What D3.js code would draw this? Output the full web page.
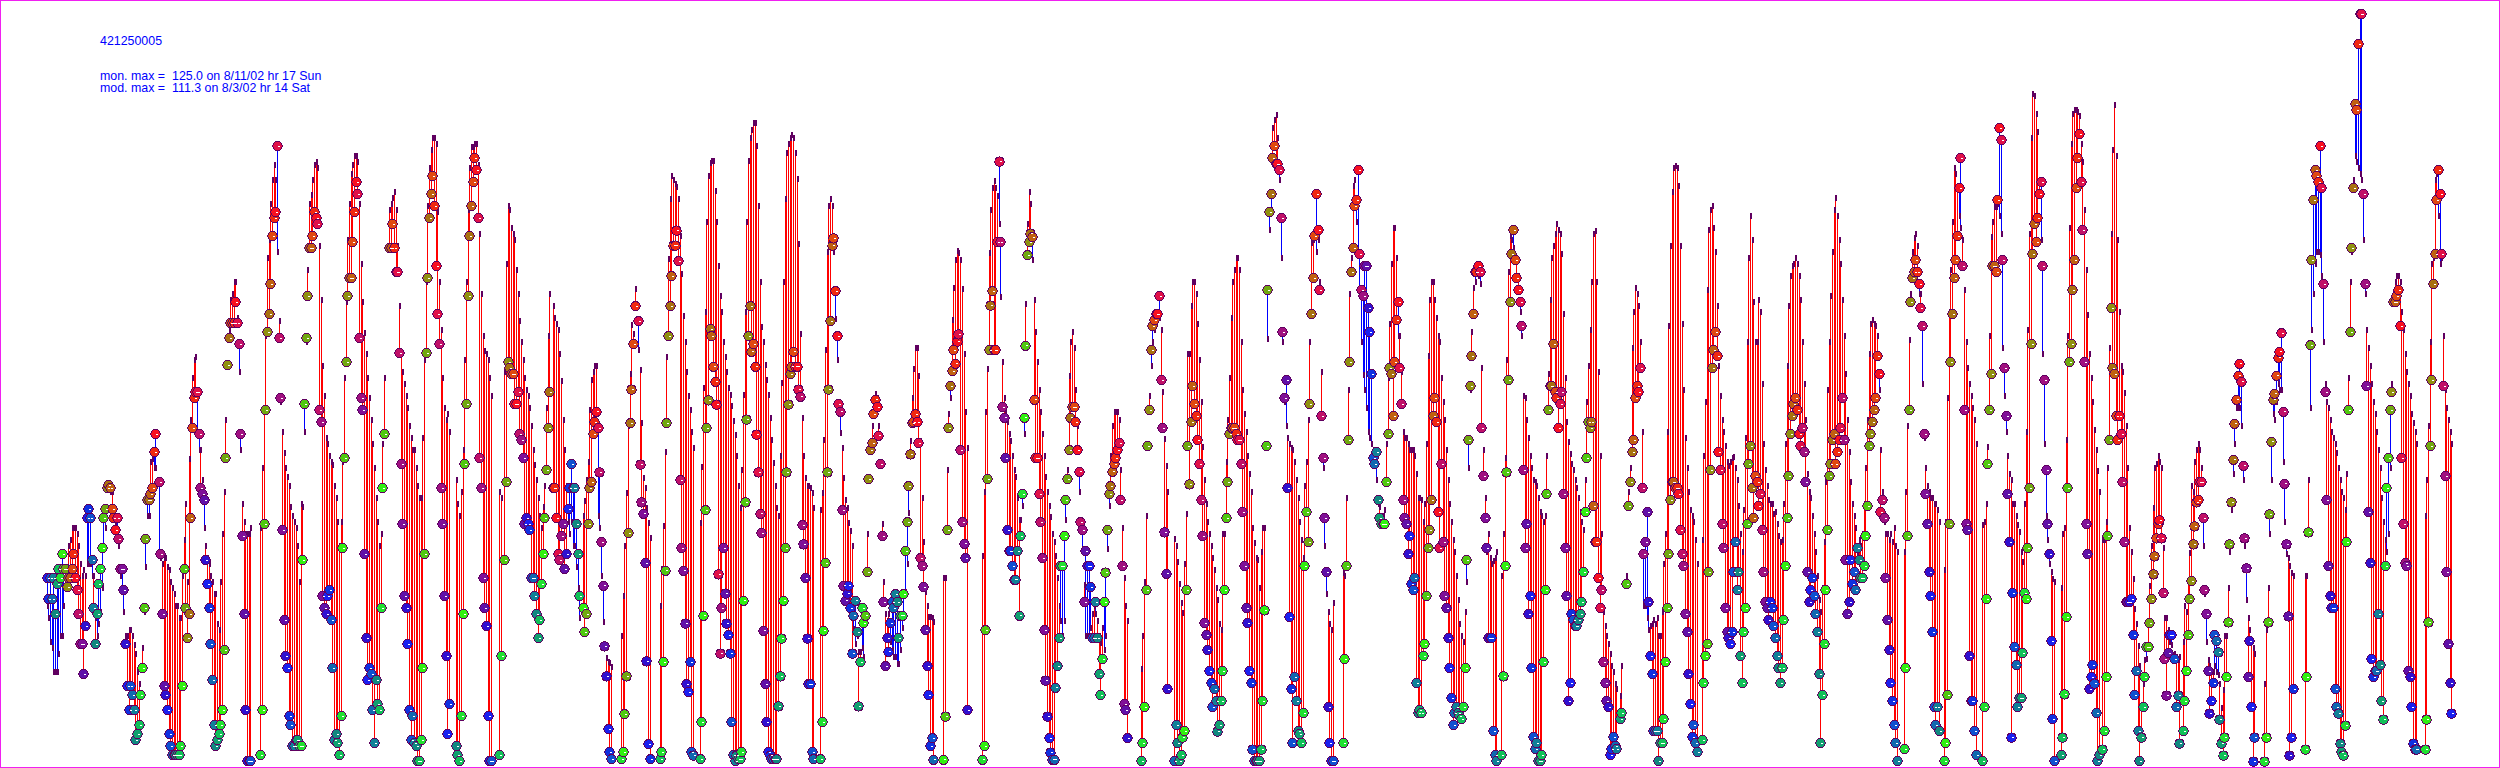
<!DOCTYPE html>
<html><head><meta charset="utf-8">
<script src="https://cdn.jsdelivr.net/npm/d3@7"></script>
<style>html,body{margin:0;padding:0;background:#fff}svg{display:block}</style>
</head><body><svg id="c" width="2500" height="768"></svg>
<script>
const stationId = "421250005";
const monLabel = "mon. max =", monText = "125.0 on 8/11/02 hr 17 Sun";
const modLabel = "mod. max =", modText = "111.3 on 8/3/02 hr 14 Sat";
// [hour index, monitored value, modelled value]
const weekA=[[1,31,26],[2,27.5,24],[3,31,20],[4,27.5,19],[5,31,15],[6,25,15],[7,30,15],[8,32.5,18],[9,31,21],[10,35,21],[11,32.5,26],[12,32.5,30],[13,29.5,32.5],[14,31,36],[15,31,37],[16,32.5,39],[17,35,39],[18,31,39],[19,29,38],[20,25,36],[21,20,33],[22,20,31],[23,15,32],[24,23,31],[25,41,33],[26,42.5,33],[27,41,33],[28,34,31],[29,26,31],[30,20,24],[31,25,21],[32,30,23],[33,32.5,25],[34,36,29],[35,41,36],[36,42.5,39],[37,46,46],[38,46.5,46],[39,46,45],[40,42.5,45],[41,41,42.5],[42,39,40],[43,41,37.5],[44,37.5,36],[45,32.5,31],[46,32.5,29],[47,29,25],[48,20,21],[49,13,21],[50,9,22],[51,13,22],[52,11.5,21],[53,9,19.5],[54,4,18],[55,5,15],[56,6.5,13],[57,11.5,11],[58,16,19],[59,26,25],[60,37.5,32.5],[61,44,41],[62,44,41],[63,45,50],[64,46,50.5],[65,52,49],[66,55,49],[68,47,35],[69,35,34],[70,25,33],[71,13,34],[72,11.5,34],[73,9,32.5],[74,5,32],[75,3,30],[76,1.5,29],[77,1.5,28],[78,1.5,26],[79,1.5,26],[80,1.5,24],[81,3,24],[82,13,31],[83,32.5,37],[84,26,43],[85,21,30],[86,25,50.5],[87,41,57],[88,56,64],[89,61,67],[90,62,67.5],[91,62,55],[92,55,52],[93,46,52],[94,45,47],[95,44,39],[96,34,36],[97,30,34],[98,26,33],[99,20,31],[100,14,30],[101,6.5,28],[102,3,28],[103,4,23],[104,5,22],[105,6.5,30],[106,9,38],[107,19,45],[108,51,57],[109,66.5,66],[110,71,72],[111,73.5,77],[112,73.5,78],[113,73.5,80],[114,77,80],[115,73.5,74],[116,70,65],[117,55,52],[118,38,43],[119,25,40],[120,9,38],[121,.5,38],[122,.5,38],[123,.5,39],[129,1.5,39],[130,9,49],[131,40,59],[132,59,71],[133,72,84],[134,75,87],[135,80,93],[136,88,97],[137,91,99.5],[138,92,97],[139,103,85],[140,71,73.5],[141,61,60],[142,39,55],[143,24,51.5],[144,18,49],[145,16,47.5],[146,8,46],[147,6.5,42.5],[148,3,41],[149,3,40],[150,4,39],[151,4,36],[152,3,30],[153,3,43],[154,34,42.5]];
const weekB=[[155,60,55],[156,71,70],[157,78,82],[158,86,93],[159,86,94.5],[160,88,97],[161,92,99.5],[162,91,100],[163,90,99],[164,59,86],[165,57,77],[166,28,66],[167,26,61],[168,25,54],[169,28,53],[170,29,51],[171,24,50],[172,16,49.5],[173,4,46],[174,5,44],[175,3.5,40],[176,1.5,36],[177,8,40],[178,36,50],[179,51,64],[180,67,76.7],[181,78,87],[182,81,93],[183,81,98],[184,87,99.5],[185,92,101],[186,97,101],[187,95,100],[188,71,93],[189,61,83],[190,59,76.7],[191,35,71.5],[192,21,68],[193,14,64],[194,16,60.6],[195,15,57],[196,9,53],[197,3.5,49],[198,14,44],[199,10,40],[200,9,36],[201,26,38],[202,46,53],[203,55,64],[206,86,92],[207,86,93],[208,90,94],[209,86,95],[210,82,92],[211,82,86],[212,68.5,76],[213,50,68],[214,40,65],[215,28,63],[216,26,61],[217,20,59],[218,9,56],[219,4,54],[220,8,52],[221,3.5,52],[222,3,49],[223,.5,46],[224,.5,44],[225,4,44],[226,16,54],[227,35,67],[228,68.5,80],[229,81,92.6],[230,91,99],[231,95,102],[232,98,104],[233,93,104],[234,83,103],[235,75,91.6],[236,70,80],[237,46,72],[238,40,64],[239,28,59],[240,18,57],[241,5,58],[242,10,55],[246,3,47],[247,1.5,43],[248,.5,41],[249,8,45],[250,25,52],[251,50,67],[252,60,80],[253,78,92],[254,88,99],[255,93,102.5],[256,97,102.5],[257,101,103],[258,99,103],[259,91,99.5],[260,51,88],[261,46,78],[262,31,71],[263,26,68.5],[264,23,68],[265,8,67],[266,.5,64],[267,.5,61],[272,1.5,45],[273,18,44],[275,34,65],[276,47,83],[277,67,92.6],[278,66,92],[279,65,89],[280,65,88],[281,60,87],[282,60,82],[283,62,78],[284,55,73.5],[285,54,70],[286,51,67],[287,40,64],[288,41,62],[289,40,61],[290,39,59],[291,31,56],[292,31,52],[293,28,49.5],[294,25,47],[295,21,44],[296,24,41],[297,30,39],[298,35,42.5],[299,41,46],[300,49,59],[301,56,71],[302,62,78],[304,46,76],[305,46,74],[306,41,73],[307,35,72],[308,34,68],[309,38,63.5],[310,40,57],[311,32.5,52],[312,35,46],[313,42.5,40],[314,46,38],[315,50,40],[316,46,36],[317,46,36],[318,40,32.5],[319,35,29],[320,28,24]];
const weekC=[[322,26,41],[323,22,43.5],[324,25,47],[325,40,50],[326,46,58.7],[327,47,63.7],[328,55,65],[329,57,66],[330,58.7,66],[331,56,41],[332,48.6,39],[333,37,31],[334,29.7,23.4],[335,19.6,19],[336,14.6,17.4],[337,5.8,16.7],[338,2,16.5],[339,.8,15.9],[345,.8,21],[346,2,27.6],[347,8.3,36],[348,14.6,44.8],[349,38.5,56],[350,56.8,64.6],[351,62.4,72.9],[352,70,71.3],[353,76.3,78.8],[355,73.8,68.7],[356,49.9,65.3],[357,43.6,56.5],[358,41.7,47.3],[359,33.5,45.7],[360,17.1,42.3],[361,3.3,39.8],[362,.8,37.3],[368,.8,26],[369,2,32.2],[370,17,39.3],[371,32.2,51.6],[372,56.8,67.5],[373,71.3,83.8],[374,76.3,93.9],[375,81.3,97.7],[376,86.4,97],[377,86.4,96.4],[378,88.9,95.8],[379,83.8,93.9],[380,47.3,87.6],[381,36,81.3],[382,32.2,74.4],[383,23.4,70],[384,13.3,65],[385,12,61],[386,17,58.7],[387,2,55],[388,1.4,52.4],[392,.8,39.8],[393,7,49.2],[394,24.7,62.4],[395,42.3,75],[396,56,90],[397,60.6,97.7],[398,72.5,99.8],[399,71.3,100.2],[400,66.2,100.2],[401,63.7,95.2],[402,59.9,90],[403,31.6,82.6],[404,18.4,77.6],[405,26,75],[406,36,70],[407,28.4,67.5],[408,23.4,65],[409,21.5,62.4],[410,18.4,61.2],[411,7,59.3],[412,1.5,56.9],[413,.5,54.5],[414,1.4,51],[415,.8,46],[416,.8,42.3],[417,2,48.6],[418,27.2,61.2],[419,43.6,75],[420,57.4,90],[421,71.3,100.2],[422,76.3,104],[423,68.7,105.3],[424,70,106.5],[425,66.2,106.5],[426,54.9,102.7],[427,48.6,92.7],[428,41.7,80],[429,38.5,72.5],[430,22.2,70],[431,13.3,66.2],[432,7,63.7],[433,2,61.2],[434,1.4,57.4],[435,.8,53.6],[436,.8,49.9],[437,.8,46],[438,.8,42.3],[439,9.6,41],[440,14.6,51],[441,20.9,63.2],[442,27.2,80],[443,36,93.9],[444,48.6,101.5],[445,59.9,103],[446,65,104],[447,66.2,104.5],[448,68.7,104],[449,66.2,101.5],[450,66.2,97.2],[451,62.4,86.4],[452,61.2,71.3],[453,39.8,57.4],[454,36.6,51],[455,31,47.3],[456,20.9,46],[457,13.3,46],[458,13.3,45.7],[459,2,44.8],[460,.8,42.3],[464,.8,42],[465,7,44.8],[466,22.2,53.6],[467,33.5,68.7],[468,48.6,85],[469,62.4,92.7],[470,73.8,93.9],[471,86.4,92.7],[472,87.6,85],[473,78.8,73.8],[474,71.3,67],[475,60,58.7],[476,58.7,54.9],[477,42.3,52.4],[478,29.7,47.3],[479,27.2,43.6],[480,28.4,42.3],[481,29.7,39.8],[482,26,38.5],[483,18.4,36],[484,24.7,22.2],[485,27.2,19.6],[486,22,21],[487,9.6,18.4],[488,17,18.4]];
const weekD=[[489,26,19],[490,23.5,17.5],[491,24.7,23.5],[492,32,38],[493,47.5,47.5],[494,52.3,53.5],[495,53.5,56],[496,58.3,60.7],[497,60.7,61.3],[498,59.5,60.7],[499,54.7,56],[500,50,50],[501,38,39.6],[502,27,30],[503,16.3,24.7],[504,21,23.5],[505,18.7,24.7],[506,23.5,20],[507,27,18.7],[508,26,17.5],[509,28.3,17.5],[510,27,16.3],[511,21,16.3],[512,24.7,18.7],[513,24.7,22.3],[514,28.3,24.7],[515,35.5,28.3],[516,40.3,33],[517,46.3,41.5],[518,51.6,53.5],[519,56.8,60.6],[520,57,65.5],[521,58.3,69],[522,57,69],[523,53.5,64.3],[524,34.3,53.5],[525,33,44],[526,29.5,36.7],[527,22.3,28.3],[528,16.3,26],[529,11.5,24.2],[530,3,24.2],[531,4.3,24],[532,.7,23.3],[538,.7,30.7],[539,7.9,30.7],[540,39,48.7],[541,56,58],[542,63,60.7],[543,65.5,73.6],[544,69,79],[545,66.7,83.6],[546,70.4,85.2],[547,71.6,84.8],[548,52.3,83.6],[549,40.3,78.8],[550,36.7,68],[551,34.3,58.3],[552,9,52.3],[561,.7,34.3],[562,3,45],[563,22.3,58.3],[564,47.5,65.5],[565,69,84.8],[566,76.4,92],[567,78.8,95.6],[568,69,96.8],[569,69,95.6],[570,87,94.4],[571,100.4,89.6],[572,87,77.5],[573,59.5,66.7],[574,57.7,60.7],[575,51,58.3],[576,39,56.7],[577,35.5,54.7],[578,35.5,53.5],[579,33,51],[580,30.7,48.7],[581,30.7,47.5],[582,35.5,44],[583,24.7,40.3],[584,38,40.3],[585,45,42.7],[586,57.7,54.7],[587,69.7,76.4],[588,84.8,89.6],[589,87,95],[590,88.4,93],[591,87.8,83.6],[592,60.7,77],[593,51,71.6],[594,51,66.7],[595,45,62],[596,40.3,58.3],[597,34.3,54.7],[598,22.3,51],[599,13.9,47.5],[600,7.9,45],[601,4.3,42.7],[602,1.9,40.9],[603,.7,38],[604,.7,36.7],[605,12.7,34.3],[606,16.3,30.7],[607,21,26],[608,33,23.5],[609,33,21],[610,38,23.5],[611,44,40.3],[612,47.5,48.7],[613,52.3,64.3],[614,57.7,70],[615,59.5,71.6],[616,59.5,69],[617,57,62],[618,52.3,56],[619,48.7,45],[620,40.3,39],[621,39,35.5],[622,27,29.5],[623,35.5,21],[624,33,21],[625,33,21],[626,29.5,22.3],[627,21,24.7],[628,21,26],[629,27,24.7],[630,21,23.5],[631,15,21],[632,11.5,19.9],[633,17.5,22.3],[634,27,18.7],[635,31.9,21],[636,39,35.5],[637,45,42.7],[638,46.3,51],[639,48.7,56],[640,50,58.3],[641,51,58.3],[642,52.3,58.3],[643,53.5,57],[644,44,48.7],[645,33,39],[646,10,30.7],[647,9,26],[648,4.3,23.5]];
const weekE=[[656,.5,15.5],[657,3.5,21],[658,9.5,30],[659,29,41],[660,53,53],[661,59,61],[662,69,66],[663,73,70],[664,74,72],[665,75,73],[666,75,74],[667,78,74],[668,64,72],[669,56,61.7],[670,38.6,53.9],[671,31.7,49.3],[672,12.5,45],[676,.5,37.2],[677,6.5,36],[678,3.5,33.3],[679,.5,29.7],[680,1.5,26.5],[681,4.4,24.8],[682,5.5,33],[683,29,41.4],[684,53,68],[685,46.6,68],[686,57,76],[687,63,80],[688,60,80],[689,58,78],[690,54,73],[691,50,67],[692,44,60],[693,38,52.5],[694,23.5,47],[695,21.5,43],[696,19,40],[697,15.5,38],[698,13.5,36],[699,9.5,34],[700,12.5,32],[701,10.5,29],[702,5.4,27],[703,6.5,23],[704,10.5,22],[705,15.5,38],[706,29,38],[707,41,50],[708,47,57],[709,55,64],[710,56,74],[711,56,80],[712,56,82],[713,55,84],[714,54,84],[715,54,82],[716,50,70],[717,42,62],[718,33,58],[719,26,55],[720,23.5,51],[721,15.5,48],[722,13.5,45],[723,2.4,39],[724,.5,36.5],[725,.5,34],[726,.5,33.6],[727,.5,29],[728,2.4,35],[729,10.5,39],[730,25.6,39],[731,53,53],[732,79,70.5],[733,92,88.6],[734,95,92],[735,101,105.7],[736,103,107],[737,100,107.8],[738,100,104],[739,99,97],[740,91,84],[741,72,70],[742,61,60],[743,64,56],[744,46,54],[745,24.5,53],[746,12.5,52.4],[747,3.5,52],[748,14.5,50],[749,10.5,47],[750,5.5,44],[751,5,40],[752,3.5,37],[753,8.5,34],[754,33,46],[755,42,50],[756,37,57],[757,60,70],[758,75,86.5],[759,81,87],[760,88,88],[761,95,85],[762,89,87],[763,79,80],[764,58,65],[765,51,49],[766,41,36],[767,32,28],[768,9.5,25],[769,3.5,23],[770,.5,22],[771,.5,26.5],[777,3.5,31.5],[778,17.5,31],[779,33,44],[780,54,62],[781,67,78],[782,82,84],[783,86,96],[784,93,97],[785,94,90],[786,99,85],[787,85,78],[788,79,70],[789,78,64.5],[790,83,62],[791,83,59],[792,76,55],[793,72,54],[794,65,53],[795,51,52],[796,50,50],[797,52,47],[798,44,43],[799,41,42.5],[800,40,41],[801,40,41],[802,40,42],[803,47,53],[804,55,64],[805,66,73],[806,65,83],[807,58,89],[808,67,89],[809,74,84],[810,77,71],[811,66,71],[812,60,65],[813,44,55],[814,41,54],[815,40,54],[816,35,53],[817,38,52],[818,30,52],[819,29,52],[820,31,51],[821,13.5,48]];
const weekF=[[822,8.5,44],[823,9,44],[824,8.5,43.6],[825,18,40],[826,20,43],[827,28,53],[828,36,67.6],[829,39,77],[830,44,80],[831,58,80],[832,61,77],[833,57,74],[834,42,71],[835,36,70],[836,50,64],[837,37,60],[838,28,57],[839,26,52],[840,21,47],[841,16,43],[842,11,40],[843,6.5,37],[844,8.5,35],[845,9.5,31],[846,8.5,27],[847,8,23],[848,7.5,21],[849,9.5,20],[850,16,25],[851,34,30],[852,54,49],[853,63,62],[854,68,71.6],[855,75,79],[856,82,80],[857,82,82],[858,83,81],[859,82,79.6],[860,56,65.6],[861,48,52],[862,41,44],[863,36,35],[864,21,38],[865,21,34],[866,21,33],[867,5.5,33.5],[868,1.5,34],[869,.5,35],[872,1.5,31],[873,14.6,38],[874,33,50.6],[875,48.6,67],[876,64,81.6],[877,77,87.6],[878,85,87],[879,89,85.6],[880,84,84],[881,81,83.6],[882,79,81],[883,77,75],[884,73,71],[885,49,61],[886,36,60.6],[887,40,57],[888,25,54],[889,28,51],[890,16,49],[891,4.5,47],[892,2.5,46.6],[893,3.5,46],[894,.5,44],[895,.5,41.6],[896,1.5,41],[897,17,40],[898,29,41],[899,45,51],[900,59,64.6],[901,63,77],[902,63,84],[903,70,86],[904,62,88],[905,61,89.6],[906,56,88.6],[907,60,88],[908,62,84.6],[909,45,74.6],[910,36,64],[911,28,56.6],[912,10.5,53.3],[913,13.5,51.3],[914,25,49.6],[915,24,48.6],[916,23,47],[917,23,45.6],[918,24,44],[919,25,41.6],[920,27,40],[921,32,38.6],[922,42,47],[923,51,60],[924,57,66],[925,56,72],[926,57,80],[927,43,88],[928,37,88.5],[929,37,80],[930,31,65],[931,26,51],[932,29,38],[933,17,25],[934,13.5,22.6],[935,10.5,21],[936,9.5,19.6],[937,1.5,18],[938,2.5,16],[939,4.5,15],[940,3,13],[941,2.5,12.2],[943,7.5,11],[944,8.5,16],[947,30,31],[948,43,45],[949,47,49],[950,52,69],[951,54,75],[952,61,79],[953,63,78],[954,62,76],[955,66,70],[956,46,55],[957,35,26],[958,37,26],[959,42,24],[960,27,22],[961,18,22.6],[962,15,23],[963,5.5,23.6],[964,5.5,23],[965,5.5,24],[966,.5,21],[967,3.5,21],[968,3.5,25],[969,7.5,33],[970,17,38],[971,26,55],[972,35,72.6],[973,44,86],[974,47,95],[975,47,99],[976,46,99.3],[977,46,99],[978,45,96],[979,39,86],[980,35,73],[981,33,62],[982,25,54],[983,22,49],[984,15,45],[985,10,42],[986,4.5,41],[987,6.5,40],[988,3.5,37],[989,2,33]];
const weekG=[[992,4,37],[993,13.5,51],[994,18,60],[995,20,78.6],[996,32,88.6],[997,49,92],[998,66,92.6],[999,69,89],[1000,72,85],[1001,68,76],[1002,52,66],[1003,49,61],[1004,40,57],[1005,36,55],[1006,26,52.6],[1007,22,50],[1008,21,49.3],[1009,20,50],[1010,22,50.6],[1011,32,50.9],[1012,37,49],[1013,29,47],[1014,32,42.6],[1015,18,38],[1016,13.5,35],[1017,22,42],[1018,26,54],[1019,40,70],[1020,50,84],[1021,53,91],[1022,46,87],[1023,41,76.6],[1024,48,70],[1025,47,70],[1026,43,77],[1027,45,75],[1028,39,63],[1029,32,53],[1030,27,48.6],[1031,26,46],[1032,24,43.6],[1033,27,43],[1034,26,43],[1035,23,41.3],[1036,21,41.6],[1037,18,39.6],[1038,16,37.6],[1039,13.5,36.6],[1040,16,37],[1041,24,43],[1042,33,53],[1043,41,66],[1044,48,76],[1045,55,81],[1046,58,82.6],[1047,60,83],[1048,61,84],[1049,59,83],[1050,55,81],[1051,53,77],[1052,56,70],[1053,52,63],[1054,47,57],[1055,32,48],[1056,27,45],[1057,29,44],[1058,31,41],[1059,28,38],[1060,25,35],[1061,22,31],[1062,15,27],[1063,3.5,25],[1064,11.5,29],[1065,20,36.6],[1066,29,46.6],[1067,39,62],[1068,48,70],[1069,50,77.6],[1070,54,85],[1071,55,92],[1072,50,94],[1073,52,91],[1074,54,87],[1075,56,83],[1076,61,77],[1077,54,71],[1078,34,64.6],[1079,25,57],[1080,27,51.6],[1081,34,46.6],[1082,30,43],[1083,32,41],[1084,29,39],[1085,36,35],[1086,34,37],[1087,31,36],[1088,31,38],[1089,33,43],[1090,38,49],[1091,43,57],[1092,53,68],[1093,55,73],[1094,57,73.6],[1095,59,73],[1096,61,72.6],[1097,68,71],[1098,65,62],[1099,42,52],[1100,44,45],[1101,41,40],[1102,31,38],[1103,24,38],[1104,19,37],[1105,13.5,38],[1106,10.5,36.6],[1107,6.5,39],[1108,3.5,36],[1109,.5,35],[1113,2.5,35],[1114,16,45],[1115,38,56],[1116,59,70.3],[1117,77,78],[1118,81,85],[1119,82,87.3],[1120,84,88],[1121,82,86],[1122,80,78],[1123,76,78],[1124,73,63],[1125,55,54],[1126,45,49],[1127,40,46],[1128,32,45],[1129,28,44],[1130,22,44],[1131,9.5,43],[1132,6.5,43],[1133,9.5,42],[1134,5.5,40],[1137,.5,32],[1138,3.5,40],[1139,11.5,60.6],[1140,40,75],[1141,67,82],[1142,75,90],[1143,81,99],[1144,84,98],[1145,88,96],[1146,96,91],[1147,101,89],[1148,83,87],[1149,59,78.6],[1150,40,70],[1151,39,65.6],[1152,18,63],[1153,10.5,61],[1154,10.5,59],[1155,5.5,57],[1156,1.5,53]];
const weekH=[[1160,.5,39.5],[1161,9.5,40],[1162,27.5,43],[1163,50,52.5],[1164,59,71],[1165,65,87.5],[1166,83,90],[1167,83,92.5],[1168,82,92.5],[1169,94,93],[1170,106,91],[1171,104,88],[1172,84,69],[1173,66,61],[1174,58,55],[1175,45,51],[1176,37,48],[1177,4.4,47],[1178,28.5,43],[1179,19.5,43],[1180,16.5,41],[1181,9.5,39.5],[1182,11,38.4],[1183,11,35],[1184,18.5,33.4],[1185,28.5,43],[1186,27.5,55],[1187,36,72],[1188,46,88],[1189,70,104],[1190,85,111.3],[1191,90,111],[1192,87,108],[1193,91,105],[1194,95,97],[1195,97,87],[1196,83,68],[1197,64,53],[1198,49,41],[1199,40,37],[1200,35,33],[1201,20.5,31.6],[1202,7.5,30.5],[1203,.5,30],[1207,1.5,29],[1208,4.4,38],[1209,11.6,39],[1210,24.5,53.6],[1211,46,71],[1212,67,89],[1213,70,103],[1214,79,108],[1215,84,108.7],[1216,96,108.7],[1217,101,108.4],[1218,105,107.6],[1219,97,103],[1220,89,100],[1221,67,92],[1222,40,82],[1223,35,74.5],[1224,12.5,68],[1225,14.5,64],[1226,16.5,60],[1227,13.4,55.4],[1228,8.5,52],[1229,.5,48.5],[1230,1.5,45],[1232,2.4,37],[1233,5.5,37],[1234,14.5,40],[1235,38,49],[1236,54,69],[1237,76,88],[1238,66,102],[1239,65,109.5],[1240,58,101],[1241,54,87],[1242,58,75],[1243,55,66],[1244,47,65],[1245,37,61.5],[1246,27,56],[1247,27,49],[1248,27,39],[1249,27.5,35],[1250,21.5,30.5],[1251,11.5,25.5],[1252,15.5,23],[1253,5.5,19.4],[1254,.5,16],[1255,4.4,9.3],[1256,9.5,13],[1257,14.5,17],[1258,19.5,17.2],[1259,19.5,23],[1260,23.5,29.4],[1261,27.5,36],[1262,31.6,42.4],[1263,34.6,49],[1264,37.6,49.6],[1265,40,51],[1266,40.6,50],[1267,37.6,49],[1268,28.5,35.6],[1269,17.5,24],[1270,11.4,24],[1271,18.5,22],[1272,21.5,20],[1273,21.5,19.5],[1275,17.5,18],[1276,9.5,17.5],[1277,11.4,17],[1278,3.4,17.5],[1280,5.5,20],[1281,10.5,26],[1282,15.5,25],[1283,21.5,30],[1284,27.5,34.8],[1285,30.5,46],[1286,36.6,45],[1287,39.6,50],[1288,43.6,52],[1289,44,53],[1290,47,52]];
const weekI=[[1291,47,49],[1292,41,36],[1293,29,28],[1294,25,20],[1295,15.5,17],[1296,8.4,16],[1297,10.5,15],[1298,13.5,15],[1299,21.5,16],[1300,20.5,15],[1301,18.6,14.5],[1302,7.4,13],[1303,3.4,9],[1304,1.4,12],[1305,4.4,21],[1306,14.5,21],[1307,23.6,29],[1308,36.6,35],[1309,43.6,42],[1310,50.7,48],[1311,56.7,53],[1312,60.7,59],[1313,64.7,59],[1314,66.7,59],[1315,63.7,56],[1316,49.7,47],[1317,37.6,36],[1318,32.6,27],[1319,14.5,24],[1320,20.5,22],[1321,9.5,20],[1322,.4,19],[1323,4.4,18],[1329,.4,13],[1330,4.4,22],[1331,23.6,29],[1332,41.6,38],[1333,53.7,47],[1334,60.7,58],[1335,61.7,57],[1336,64.7,60],[1337,67.7,63],[1338,68.7,62],[1339,71.8,62],[1340,58.7,50],[1341,46.7,40],[1342,36.6,34.6],[1343,24.6,34],[1344,1.4,32.6],[1345,4.4,31.5],[1346,12.5,31],[1353,2.4,31],[1354,14.5,31],[1355,38.6,47],[1356,69.8,59],[1357,84,72],[1358,94,78],[1359,99,83],[1360,98,85],[1361,97,85],[1362,103,84.5],[1363,96,81],[1364,80,70],[1365,62,63],[1366,44,60],[1367,33,59],[1368,28,57],[1369,26,55],[1370,26,54],[1371,12.5,53],[1372,9.5,51.5],[1373,8.4,49],[1374,3.4,47],[1375,2,45],[1376,1.4,44],[1377,6.4,42],[1378,37,48],[1379,59,64],[1380,72,80],[1381,86,85],[1382,96,97],[1383,110,101],[1384,109,100],[1385,120,99],[1386,125,98],[1387,125,97],[1388,95,87],[1389,80,78],[1390,63,72],[1391,42,69],[1392,33.5,66],[1393,17.5,63],[1394,14.5,60],[1395,15.5,58],[1396,15.5,55],[1397,25,52],[1398,16.5,49],[1399,10.5,44],[1400,7.4,40],[1401,33,37],[1402,46,35],[1403,51,38],[1404,59,49],[1405,62,63],[1406,77,78],[1407,77,80],[1408,78,81],[1409,79,81],[1410,73,80],[1411,51,75],[1412,40,72],[1413,33.5,68],[1414,33,65],[1415,15.5,63],[1416,14.5,61],[1417,9.5,58],[1418,3.4,56.5],[1419,2.4,55],[1420,2.4,53],[1425,2.4,41],[1426,7.4,47],[1427,23.6,56],[1428,53,70],[1429,64,83],[1430,80,84],[1431,85,97],[1432,94,98],[1433,99,91],[1434,95,83],[1435,85,84],[1436,63,71],[1437,48,62],[1438,32,59],[1439,20,57],[1440,13.5,55],[1441,8.4,53]];

const readings=[...weekA,...weekB,...weekC,...weekD,...weekE,...weekF,...weekG,...weekH,...weekI];
const hourColors=["#3010d0","#1a20f0","#1030e0","#1050d0","#1068b0","#108098","#108880","#10a070","#10c058","#20e030","#30f010","#50c810","#70a810","#909010","#a87010","#c06010","#e04810","#f02810","#f81020","#e01048","#c01068","#a01080","#801098","#6010a8"];

const x=d3.scaleLinear().domain([0,1440]).range([45,2449.8]);
const y=d3.scaleLinear().domain([0,125]).range([764,14]);
const px=h=>Math.round(x(h))+.5;
const svg=d3.select("#c");
svg.append("rect").attr("x",.5).attr("y",.5).attr("width",2499).attr("height",767)
  .attr("fill","#fff").attr("stroke","#f020f0").attr("stroke-width",1);

const marks=svg.append("g").attr("shape-rendering","crispEdges");
marks.append("g").selectAll("line").data(readings).join("line")
  .attr("x1",d=>px(d[0])).attr("x2",d=>px(d[0]))
  .attr("y1",d=>y(d[1])).attr("y2",d=>y(d[2]))
  .attr("stroke",d=>d[2]>=d[1]?"#ff0000":"#0000ff").attr("stroke-width",1);
marks.append("g").selectAll("line").data(readings).join("line")
  .attr("x1",d=>px(d[0])).attr("x2",d=>px(d[0]))
  .attr("y1",d=>y(d[2])+1).attr("y2",d=>y(d[2])-5)
  .attr("stroke","#600060").attr("stroke-width",2);
marks.append("g").selectAll("circle").data(readings).join("circle")
  .attr("cx",d=>px(d[0])).attr("cy",d=>y(d[1])).attr("r",4.7)
  .attr("fill",d=>hourColors[d[0]%24]).attr("stroke","#600060").attr("stroke-width",1);
marks.append("g").selectAll("line").data(readings).join("line")
  .attr("x1",d=>px(d[0])).attr("x2",d=>px(d[0])+2)
  .attr("y1",d=>y(d[1])).attr("y2",d=>y(d[1]))
  .attr("stroke","#fff").attr("stroke-width",1);

const t=svg.append("g").attr("fill","#0000ff")
  .attr("font-family","'Liberation Sans',Arial,sans-serif").attr("font-size",12.4);
t.append("text").attr("x",100).attr("y",45).text(stationId);
t.append("text").attr("x",100).attr("y",80).text(monLabel);
t.append("text").attr("x",172).attr("y",80).text(monText);
t.append("text").attr("x",100).attr("y",92).text(modLabel);
t.append("text").attr("x",172).attr("y",92).text(modText);
</script></body></html>
